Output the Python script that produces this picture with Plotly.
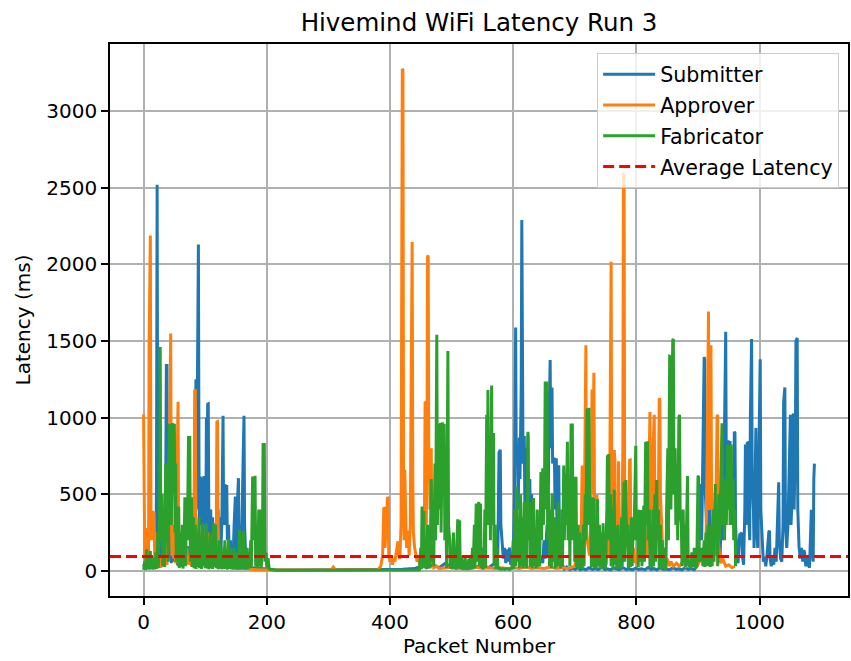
import plotly.graph_objects as go

chart_title = "Hivemind WiFi Latency Run 3"
x_label = "Packet Number"
y_label = "Latency (ms)"
series_names = ["Submitter", "Approver", "Fabricator"]
series_colors = ["#1f77b4", "#ff7f0e", "#2ca02c"]
average_label = "Average Latency"
average_latency = 93
x_ticks = [0, 200, 400, 600, 800, 1000]
y_ticks = [0, 500, 1000, 1500, 2000, 2500, 3000]
x_range = [-54.5, 1143.5]
y_range = [-164, 3438]

# (packet number, latency ms)
submitter_points = [
    (0, 30), (3, 60), (6, 20), (9, 50), (12, 30), (15, 80), (18, 40), (20, 100), (21, 600), (22, 2520), (23, 300),
    (24, 80), (26, 200), (28, 60), (30, 150), (32, 50), (34, 200), (36, 600), (37, 1340), (38, 1340), (39, 200),
    (41, 80), (43, 300), (45, 50), (48, 200), (50, 60), (53, 150), (55, 40), (58, 220), (60, 50), (63, 140),
    (65, 40), (68, 190), (70, 50), (73, 160), (75, 40), (78, 210), (80, 60), (82, 300), (84, 1245), (85, 1250),
    (86, 400), (87, 1000), (88, 2130), (89, 2130), (90, 600), (91, 300), (92, 615), (93, 400), (94, 610), (95, 200),
    (96, 600), (97, 350), (98, 619), (99, 300), (100, 615), (101, 200), (102, 1000), (103, 400), (104, 1087),
    (105, 1089), (106, 300), (107, 200), (109, 400), (110, 150), (112, 350), (113, 100), (115, 300), (116, 80),
    (118, 250), (119, 60), (121, 400), (122, 100), (124, 350), (125, 80), (127, 300), (128, 1010), (129, 1012),
    (130, 300), (131, 550), (132, 564), (133, 550), (134, 300), (135, 560), (136, 200), (138, 300), (139, 80),
    (141, 200), (142, 50), (144, 150), (145, 40), (147, 300), (148, 482), (149, 485), (150, 200), (151, 100),
    (152, 400), (153, 604), (154, 605), (155, 200), (156, 50), (158, 300), (159, 100), (161, 600), (162, 1010),
    (163, 1012), (164, 300), (165, 100), (166, 50), (168, 30), (170, 40), (172, 20), (175, 15), (180, 20),
    (190, 15), (200, 10), (215, 5), (250, 5), (300, 6), (350, 5), (400, 8), (420, 10), (440, 15), (450, 30),
    (455, 60), (460, 20), (470, 40), (480, 20), (490, 50), (500, 20), (510, 40), (520, 20), (530, 50), (540, 25),
    (550, 40), (560, 20), (570, 50), (575, 100), (577, 772), (578, 780), (579, 790), (580, 300), (582, 150),
    (584, 80), (586, 150), (588, 50), (590, 140), (592, 60), (594, 151), (596, 40), (598, 120), (600, 60),
    (602, 500), (603, 1580), (604, 1588), (605, 700), (607, 800), (608, 400), (610, 870), (611, 600), (612, 867),
    (613, 1200), (614, 2290), (615, 1000), (616, 700), (618, 880), (619, 400), (621, 800), (622, 300), (624, 890),
    (625, 400), (627, 600), (628, 200), (630, 500), (631, 150), (633, 300), (634, 80), (636, 200), (638, 60),
    (640, 150), (642, 50), (645, 100), (648, 50), (650, 200), (652, 80), (655, 300), (656, 100), (658, 900),
    (659, 1365), (660, 1376), (661, 800), (662, 1190), (663, 1197), (664, 700), (665, 733), (666, 735), (667, 730),
    (668, 400), (670, 735), (671, 300), (673, 680), (674, 680), (675, 200), (677, 100), (680, 40), (683, 12),
    (687, 25), (692, 8), (695, 18), (701, 10), (704, 22), (709, 9), (714, 15), (718, 7), (723, 20), (729, 10),
    (733, 16), (738, 8), (744, 24), (749, 9), (752, 14), (758, 7), (763, 19), (769, 11), (772, 8), (778, 21),
    (784, 9), (787, 15), (793, 7), (799, 18), (803, 10), (808, 13), (814, 8), (819, 22), (824, 9), (828, 16),
    (833, 7), (839, 20), (843, 10), (848, 12), (854, 8), (859, 19), (865, 9), (868, 14), (874, 7), (879, 21),
    (884, 10), (889, 15), (894, 8), (898, 30), (900, 100), (903, 300), (905, 567), (906, 200), (908, 900),
    (909, 1390), (910, 1395), (911, 1380), (912, 500), (914, 300), (916, 150), (918, 400), (920, 200), (922, 500),
    (924, 150), (926, 300), (928, 100), (930, 400), (932, 150), (934, 300), (936, 100), (938, 400), (940, 200),
    (942, 600), (943, 1000), (944, 1560), (945, 1560), (946, 600), (948, 853), (949, 853), (950, 400), (952, 847),
    (953, 300), (955, 600), (957, 300), (958, 900), (959, 908), (960, 900), (961, 300), (963, 100), (965, 50),
    (967, 200), (968, 243), (969, 240), (971, 248), (972, 100), (974, 40), (976, 400), (977, 825), (978, 300),
    (980, 834), (981, 836), (982, 400), (984, 200), (985, 1000), (986, 1510), (987, 1513), (988, 600), (990, 400),
    (991, 150), (993, 933), (994, 933), (995, 300), (997, 150), (999, 800), (1000, 1380), (1001, 1381),
    (1002, 400), (1004, 200), (1006, 60), (1008, 93), (1010, 30), (1012, 100), (1014, 250), (1015, 255),
    (1016, 261), (1017, 80), (1019, 30), (1021, 100), (1023, 40), (1025, 150), (1027, 60), (1029, 400),
    (1030, 567), (1031, 578), (1032, 200), (1034, 80), (1036, 60), (1038, 300), (1039, 1100), (1040, 1192),
    (1041, 1197), (1042, 300), (1044, 150), (1046, 300), (1048, 800), (1049, 1008), (1050, 1018), (1051, 300),
    (1053, 500), (1054, 1008), (1055, 1026), (1056, 400), (1058, 800), (1059, 1500), (1060, 1515), (1061, 1520),
    (1062, 400), (1064, 157), (1066, 80), (1068, 150), (1070, 60), (1072, 136), (1073, 120), (1075, 30),
    (1077, 103), (1079, 40), (1081, 20), (1083, 394), (1084, 399), (1085, 150), (1087, 60), (1088, 600),
    (1089, 700),
]

approver_points = [
    (0, 1020), (1, 300), (2, 60), (4, 280), (5, 100), (7, 250), (8, 80), (9, 1500), (10, 2180), (11, 2188),
    (12, 300), (13, 200), (14, 385), (15, 390), (16, 200), (17, 380), (18, 100), (20, 250), (21, 50), (23, 150),
    (24, 30), (26, 100), (28, 20), (30, 80), (32, 30), (35, 60), (38, 40), (40, 200), (42, 800), (43, 1545),
    (44, 1549), (45, 400), (46, 100), (48, 300), (49, 80), (51, 250), (52, 50), (54, 600), (55, 1100), (56, 1104),
    (57, 200), (58, 50), (60, 100), (62, 30), (64, 270), (65, 100), (67, 50), (70, 150), (72, 40), (75, 100),
    (78, 30), (80, 200), (82, 400), (83, 1176), (84, 1183), (85, 300), (86, 100), (88, 200), (90, 60), (92, 250),
    (94, 100), (96, 200), (98, 50), (100, 245), (102, 80), (104, 250), (106, 100), (108, 230), (110, 60),
    (112, 150), (114, 40), (116, 300), (118, 200), (119, 971), (120, 973), (121, 300), (122, 100), (124, 150),
    (126, 40), (128, 130), (130, 30), (133, 100), (136, 20), (140, 30), (150, 15), (160, 20), (175, 10), (190, 8),
    (210, 5), (250, 5), (305, 5), (308, 25), (312, 5), (350, 5), (380, 5), (385, 30), (388, 100), (390, 413),
    (391, 410), (392, 150), (394, 300), (396, 482), (397, 475), (398, 100), (400, 60), (402, 100), (404, 40),
    (406, 80), (408, 60), (410, 120), (412, 187), (413, 193), (414, 100), (416, 80), (418, 300), (419, 1500),
    (420, 3275), (421, 3270), (422, 600), (423, 200), (424, 660), (425, 300), (426, 262), (427, 150), (429, 260),
    (430, 250), (431, 100), (433, 300), (434, 1000), (435, 2140), (436, 2146), (437, 600), (438, 250), (440, 150),
    (442, 100), (444, 60), (446, 100), (448, 40), (450, 60), (452, 30), (454, 80), (456, 400), (457, 1098),
    (458, 1100), (459, 300), (460, 800), (461, 2050), (462, 2058), (463, 700), (464, 751), (465, 400), (466, 790),
    (467, 800), (468, 200), (469, 60), (471, 20), (475, 30), (480, 15), (490, 20), (500, 25), (510, 15), (520, 20),
    (530, 15), (540, 25), (550, 15), (560, 20), (570, 15), (580, 20), (590, 15), (600, 20), (610, 15), (620, 25),
    (630, 15), (640, 20), (650, 15), (660, 25), (670, 15), (680, 20), (690, 15), (700, 30), (703, 100), (705, 200),
    (707, 80), (709, 300), (710, 150), (711, 680), (712, 688), (713, 300), (715, 200), (716, 600), (717, 1463),
    (718, 1472), (719, 300), (720, 200), (722, 150), (724, 100), (726, 300), (727, 1180), (728, 1183), (729, 500),
    (730, 1283), (731, 1293), (732, 400), (734, 495), (735, 300), (736, 495), (737, 100), (739, 60), (741, 100),
    (743, 40), (745, 80), (747, 30), (749, 100), (751, 40), (753, 150), (755, 300), (756, 100), (757, 800),
    (758, 2011), (759, 2017), (760, 500), (762, 400), (764, 788), (765, 723), (766, 200), (768, 100), (770, 200),
    (771, 716), (772, 150), (774, 50), (776, 100), (778, 800), (779, 2590), (780, 2595), (781, 300), (783, 150),
    (785, 250), (787, 200), (789, 723), (790, 724), (791, 200), (793, 80), (795, 150), (797, 50), (799, 100),
    (801, 40), (803, 150), (805, 60), (807, 200), (809, 80), (811, 150), (813, 60), (815, 200), (817, 100),
    (819, 300), (820, 700), (821, 1037), (822, 1037), (823, 300), (825, 200), (827, 800), (828, 1015), (829, 1018),
    (830, 300), (832, 200), (834, 300), (836, 600), (837, 1120), (838, 1124), (839, 500), (841, 300), (843, 100),
    (845, 150), (847, 40), (850, 80), (853, 30), (856, 60), (860, 30), (865, 50), (870, 30), (875, 60), (880, 30),
    (885, 50), (890, 30), (895, 60), (900, 40), (905, 80), (908, 150), (910, 60), (913, 200), (915, 800),
    (916, 1690), (917, 1692), (918, 400), (920, 1470), (921, 1472), (922, 500), (924, 300), (926, 150), (928, 100),
    (930, 800), (931, 1010), (932, 1018), (933, 200), (935, 100), (937, 50), (940, 80), (945, 30), (950, 40),
    (955, 20), (960, 30),
]

fabricator_points = [
    (0, 8), (2, 60), (3, 5), (5, 140), (6, 10), (8, 90), (9, 8), (11, 130), (12, 12), (14, 100), (15, 8), (17, 80),
    (18, 10), (20, 120), (21, 12), (23, 250), (24, 18), (26, 400), (27, 1460), (28, 200), (30, 500), (31, 30),
    (33, 300), (34, 25), (36, 700), (37, 200), (39, 450), (40, 60), (42, 960), (43, 400), (44, 950), (45, 300),
    (47, 965), (48, 500), (50, 960), (51, 250), (52, 700), (53, 60), (55, 420), (56, 30), (57, 419), (58, 18),
    (60, 250), (61, 25), (63, 300), (64, 15), (66, 200), (67, 480), (68, 30), (70, 480), (71, 200), (73, 880),
    (74, 300), (75, 880), (76, 60), (78, 480), (79, 25), (81, 350), (82, 18), (84, 300), (85, 12), (87, 250),
    (88, 25), (90, 350), (91, 18), (93, 200), (94, 12), (96, 310), (97, 30), (99, 200), (100, 18), (102, 310),
    (103, 15), (105, 150), (106, 10), (108, 250), (109, 18), (111, 200), (112, 12), (114, 310), (115, 25),
    (117, 300), (118, 18), (120, 150), (121, 10), (123, 200), (124, 15), (126, 160), (127, 10), (129, 120),
    (130, 12), (132, 200), (133, 15), (135, 100), (136, 10), (138, 210), (139, 12), (141, 150), (142, 10),
    (144, 90), (145, 8), (147, 150), (148, 12), (150, 120), (151, 10), (153, 100), (154, 8), (156, 270), (157, 8),
    (159, 130), (160, 10), (162, 260), (163, 8), (165, 90), (166, 8), (168, 150), (169, 12), (171, 120), (172, 18),
    (174, 200), (175, 25), (177, 615), (178, 300), (179, 615), (180, 200), (181, 620), (182, 30), (184, 300),
    (185, 18), (187, 400), (188, 30), (190, 400), (191, 18), (193, 200), (194, 834), (195, 300), (196, 834),
    (197, 60), (199, 120), (200, 18), (202, 83), (204, 12), (206, 10), (208, 8), (211, 6), (214, 5), (218, 4),
    (230, 4), (260, 3), (300, 4), (340, 3), (380, 4), (420, 5), (445, 6), (448, 8), (450, 150), (451, 10),
    (452, 420), (453, 30), (455, 390), (456, 18), (458, 200), (459, 12), (461, 300), (462, 25), (464, 250),
    (465, 15), (467, 600), (468, 60), (470, 450), (471, 30), (473, 700), (474, 200), (476, 1540), (477, 300),
    (479, 960), (480, 400), (482, 965), (483, 250), (485, 970), (486, 500), (488, 960), (489, 200), (491, 300),
    (492, 18), (494, 1435), (495, 300), (497, 200), (498, 15), (500, 150), (501, 10), (503, 250), (504, 12),
    (506, 100), (507, 8), (509, 200), (510, 336), (511, 15), (513, 330), (514, 12), (516, 100), (517, 8), (519, 60),
    (520, 5), (522, 100), (523, 8), (525, 60), (526, 5), (528, 80), (529, 8), (531, 100), (532, 10), (534, 150),
    (535, 10), (537, 300), (538, 18), (540, 440), (541, 60), (543, 300), (544, 450), (545, 30), (547, 440),
    (548, 18), (550, 150), (551, 10), (553, 100), (554, 400), (555, 18), (557, 1018), (558, 300), (559, 1180),
    (560, 500), (562, 700), (563, 200), (565, 1210), (566, 300), (568, 900), (569, 30), (571, 300), (572, 12),
    (574, 150), (575, 10), (577, 20), (580, 10), (583, 15), (586, 10), (590, 15), (594, 10), (598, 20), (600, 200),
    (601, 12), (603, 400), (604, 30), (606, 550), (607, 60), (609, 300), (610, 18), (612, 500), (613, 30),
    (615, 350), (616, 18), (618, 450), (619, 30), (621, 300), (622, 15), (624, 908), (625, 200), (627, 450),
    (628, 25), (630, 300), (631, 18), (633, 475), (634, 30), (636, 250), (637, 15), (639, 400), (640, 25),
    (642, 300), (643, 30), (645, 645), (646, 200), (648, 670), (649, 300), (651, 668), (652, 1235), (653, 400),
    (655, 1235), (656, 200), (658, 500), (659, 30), (661, 400), (662, 18), (664, 506), (665, 60), (667, 350),
    (668, 15), (670, 300), (671, 25), (673, 450), (674, 30), (676, 250), (677, 15), (679, 400), (680, 40),
    (682, 688), (683, 200), (685, 636), (686, 300), (688, 842), (689, 200), (691, 500), (692, 30), (694, 961),
    (695, 300), (696, 961), (697, 200), (699, 614), (700, 60), (702, 614), (703, 25), (705, 300), (706, 12),
    (708, 250), (709, 18), (711, 150), (712, 12), (714, 300), (715, 30), (717, 500), (718, 200), (720, 1059),
    (721, 300), (723, 1065), (724, 480), (726, 300), (727, 25), (729, 480), (730, 30), (731, 473), (732, 18),
    (734, 250), (735, 15), (737, 468), (738, 30), (740, 300), (741, 18), (743, 250), (744, 12), (746, 310),
    (747, 25), (749, 220), (750, 15), (752, 400), (753, 755), (754, 200), (755, 762), (756, 300), (758, 500),
    (759, 30), (761, 400), (762, 15), (764, 530), (765, 40), (767, 290), (768, 12), (770, 300), (771, 18),
    (773, 200), (774, 12), (776, 350), (777, 30), (779, 500), (780, 582), (781, 60), (783, 592), (784, 200),
    (786, 300), (787, 18), (789, 250), (790, 25), (792, 350), (793, 30), (795, 300), (796, 200), (798, 809),
    (799, 817), (800, 200), (802, 400), (803, 25), (805, 397), (806, 60), (808, 397), (809, 30), (811, 400),
    (812, 427), (813, 60), (815, 842), (816, 300), (818, 845), (819, 200), (821, 400), (822, 25), (824, 300),
    (825, 18), (827, 400), (828, 30), (830, 500), (831, 60), (832, 582), (833, 592), (834, 200), (836, 400),
    (837, 18), (839, 300), (840, 15), (842, 200), (843, 12), (845, 150), (846, 10), (848, 18), (849, 400),
    (851, 800), (852, 200), (854, 1400), (855, 1398), (856, 400), (858, 1300), (859, 1507), (860, 1513),
    (861, 500), (863, 800), (864, 300), (866, 700), (867, 200), (869, 1000), (870, 1018), (871, 400), (873, 300),
    (874, 30), (876, 400), (877, 60), (879, 300), (880, 25), (882, 614), (883, 619), (884, 60), (886, 30),
    (888, 20), (890, 120), (892, 25), (894, 150), (896, 20), (898, 30), (900, 614), (901, 619), (902, 60),
    (904, 120), (906, 150), (908, 30), (910, 200), (911, 25), (913, 250), (914, 30), (916, 300), (917, 30),
    (919, 200), (920, 25), (922, 300), (923, 30), (925, 400), (926, 60), (928, 567), (929, 200), (931, 400),
    (932, 30), (934, 500), (935, 200), (937, 700), (938, 955), (939, 963), (940, 300), (942, 500), (943, 200),
    (945, 600), (946, 300), (948, 825), (949, 400), (951, 815), (952, 300), (954, 825), (955, 400), (957, 600),
    (958, 200), (960, 400), (961, 30),
]

all_points = [submitter_points, approver_points, fabricator_points]

fig = go.Figure()
for name, color, pts in zip(series_names, series_colors, all_points):
    fig.add_trace(go.Scatter(
        x=[p[0] for p in pts], y=[p[1] for p in pts], mode="lines", name=name,
        legendgroup=name, line=dict(color=color, width=3),
    ))

fig.add_trace(go.Scatter(
    x=x_range, y=[average_latency, average_latency], mode="lines", name=average_label,
    legendgroup=average_label, line=dict(color="red", width=3, dash="11px,5px"),
))

font_family = "DejaVu Sans"
text_color = "black"
axis_common = dict(
    showgrid=True, gridcolor="#b0b0b0", gridwidth=1.6, zeroline=False,
    showline=True, linecolor="black", linewidth=1.6, mirror=True,
    ticks="outside", ticklen=7, tickwidth=1.6, tickcolor="black",
    tickfont=dict(family=font_family, size=20, color=text_color),
)
fig.update_xaxes(range=x_range, tickvals=x_ticks,
                 title=dict(text=x_label, font=dict(family=font_family, size=20, color=text_color), standoff=4),
                 **axis_common)
fig.update_yaxes(range=y_range, tickvals=y_ticks,
                 title=dict(text=y_label, font=dict(family=font_family, size=20, color=text_color), standoff=10),
                 **axis_common)

fig.update_layout(
    width=851, height=661,
    margin=dict(l=110, r=3, t=44, b=65, autoexpand=False),
    paper_bgcolor="white", plot_bgcolor="white",
    title=dict(text=chart_title, x=0.5, xref="paper", y=1 - 22 / 661, yanchor="middle",
               font=dict(family=font_family, size=24.5, color=text_color)),
    showlegend=True,
    legend=dict(x=0.988, xanchor="right", y=0.983, yanchor="top",
                bgcolor="rgba(255,255,255,0.8)", bordercolor="#cccccc", borderwidth=1,
                font=dict(family=font_family, size=20.6, color=text_color),
                tracegroupgap=1, itemwidth=52),
    font=dict(family=font_family),
)

fig.write_html("out.html", config={"displayModeBar": False},
               post_script="document.body.style.margin='0';document.body.style.overflow='hidden';")
